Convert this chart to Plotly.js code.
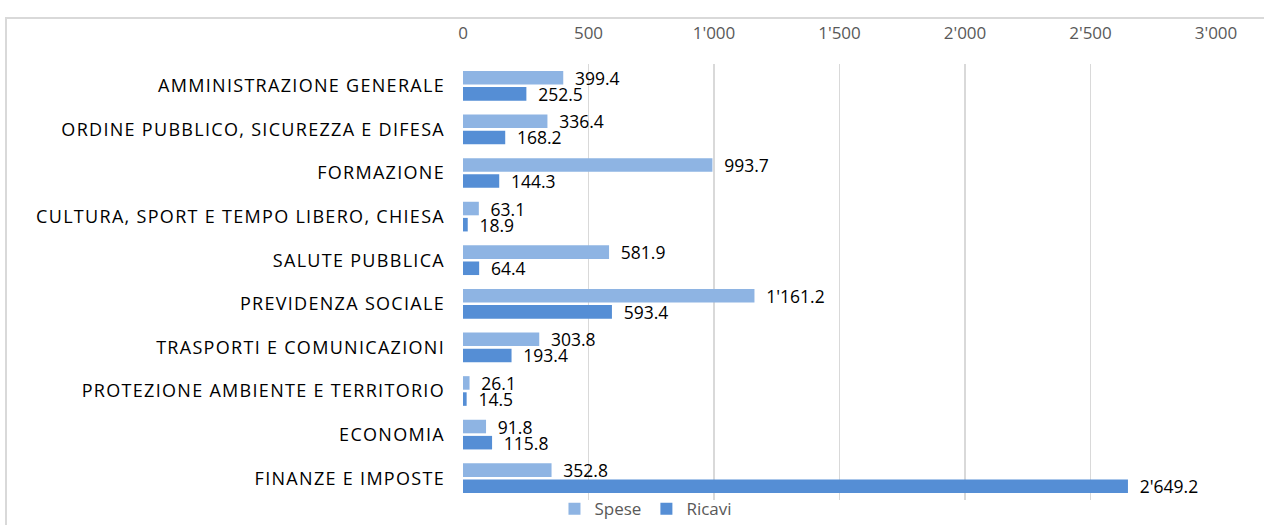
<!DOCTYPE html>
<html><head><meta charset="utf-8">
<script src="https://cdn.plot.ly/plotly-3.0.1.min.js"></script>
<style>body{margin:0;overflow:hidden;background:#fff}#wrap{position:relative;width:1264px;height:525px}
#frame{position:absolute;left:5px;top:17px;width:1270px;height:520px;border:2px solid #d9d9d9;pointer-events:none}
.ytick text{letter-spacing:1.3px}</style>
</head><body><div id="wrap"><div id="chart" style="width:1264px;height:525px"></div><div id="frame"></div></div>
<script>
const categories = ["AMMINISTRAZIONE GENERALE","ORDINE PUBBLICO, SICUREZZA E DIFESA","FORMAZIONE","CULTURA, SPORT E TEMPO LIBERO, CHIESA","SALUTE PUBBLICA","PREVIDENZA SOCIALE","TRASPORTI E COMUNICAZIONI","PROTEZIONE AMBIENTE E TERRITORIO","ECONOMIA","FINANZE E IMPOSTE"];
const spese = [399.4,336.4,993.7,63.1,581.9,1161.2,303.8,26.1,91.8,352.8];
const ricavi = [252.5,168.2,144.3,18.9,64.4,593.4,193.4,14.5,115.8,2649.2];
const xTicks = [0,500,1000,1500,2000,2500,3000];
const F = "'Open Sans', Lato, sans-serif";
const lbl = '\u2002%{x:,.1f}';
const traces = [
 {type:'bar',orientation:'h',name:'Spese',y:categories,x:spese,marker:{color:'#8EB4E3'},
  texttemplate:lbl,textposition:'outside',constraintext:'none',cliponaxis:false,textfont:{color:'#000',size:17.5,family:F}},
 {type:'bar',orientation:'h',name:'Ricavi',y:categories,x:ricavi,marker:{color:'#558ED5'},
  texttemplate:lbl,textposition:'outside',constraintext:'none',cliponaxis:false,textfont:{color:'#000',size:17.5,family:F}}
];
const layout = {
 width:1264,height:525,separators:".'",
 margin:{l:463,r:48,t:64,b:25,autoexpand:false},
 paper_bgcolor:'rgba(0,0,0,0)',plot_bgcolor:'#fff',
 barmode:'group',bargap:0.26,bargroupgap:0.16,
 font:{family:F},
 xaxis:{side:'top',range:[0,3000],tickvals:xTicks,separatethousands:true,tickformat:',d',
   showgrid:true,gridcolor:'#d9d9d9',gridwidth:1.5,zeroline:false,showline:false,
   tickfont:{size:17,color:'#595959',family:F},ticks:'',ticklabelstandoff:21},
 yaxis:{autorange:'reversed',tickfont:{size:18,color:'#000',family:F},ticks:'',showline:false,ticklabelstandoff:17},
 showlegend:true,
 legend:{orientation:'h',x:0.243,xanchor:'center',yref:'container',y:0.03,yanchor:'middle',font:{size:17,color:'#595959',family:F},traceorder:'normal',itemwidth:20},
};
Plotly.newPlot('chart',traces,layout,{displayModeBar:false,staticPlot:true});
</script></body></html>
